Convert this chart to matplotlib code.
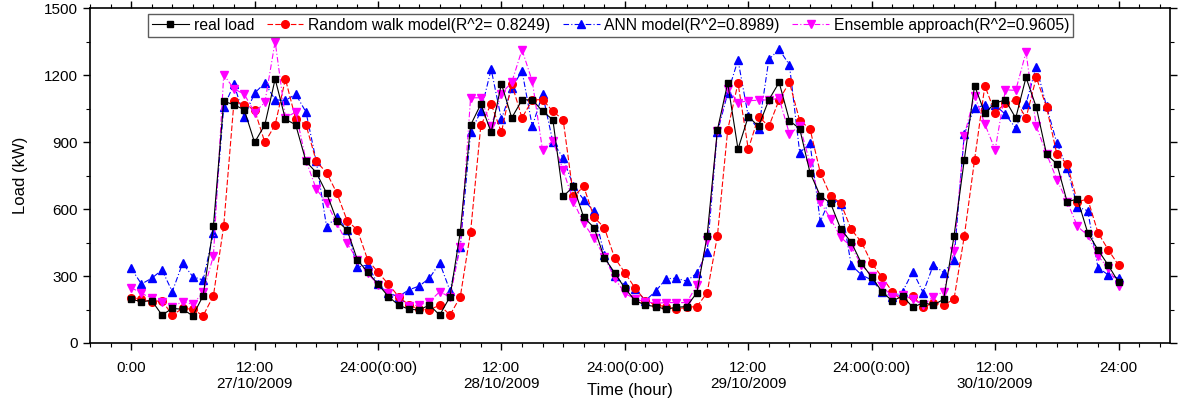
import matplotlib
matplotlib.use("Agg")
import matplotlib.pyplot as plt
from matplotlib.ticker import MultipleLocator, FixedLocator
import numpy as np

hours = list(range(97))

real_load = [196, 185, 190, 125, 155, 151, 122, 212, 524, 1082, 1067, 1044, 898, 977,
             1182, 1002, 977, 813, 763, 671, 548, 506, 372, 317, 264, 208, 170, 151,
             148, 170, 125, 207, 497, 975, 1070, 943, 1161, 1008, 1088, 1090, 1037, 1000,
             656, 701, 563, 517, 382, 315, 245, 190, 170, 163, 151, 160, 163, 225,
             480, 955, 1164, 868, 1014, 970, 1089, 1167, 996, 959, 763, 659, 626, 509,
             452, 357, 295, 230, 188, 210, 160, 180, 170, 196, 478,
             820, 1152, 1029, 1075, 1088, 1007, 1189, 1056, 845, 802, 632, 645, 494, 417, 348, 272]

random_walk = [203, 196, 185, 190, 125, 155, 151, 122, 212, 524, 1082, 1067, 1044, 898, 977,
               1182, 1002, 977, 813, 763, 671, 548, 506, 372, 317, 264, 208, 170, 151,
               148, 170, 125, 207, 497, 975, 1070, 943, 1161, 1008, 1088, 1090, 1037, 1000,
               656, 701, 563, 517, 382, 315, 245, 190, 170, 163, 151, 160, 163, 225,
               480, 955, 1164, 868, 1014, 970, 1089, 1167, 996, 959, 763, 659, 626, 509,
               452, 357, 295, 230, 188, 210, 160, 180, 170, 196, 478,
               820, 1152, 1029, 1075, 1088, 1007, 1189, 1056, 845, 802, 632, 645, 494, 417, 348]

ann = [335, 264, 290, 327, 230, 357, 297, 282, 491, 1056, 1159, 1011, 1119, 1164,
       1089, 1086, 1114, 1034, 813, 521, 566, 506, 339, 350, 262, 223, 208, 238,
       255, 290, 359, 234, 432, 943, 1037, 1226, 1001, 1141, 1219, 970, 1115, 900,
       828, 702, 642, 589, 396, 300, 260, 240, 190, 232, 288, 290, 277, 313,
       408, 944, 1119, 1267, 1015, 957, 1270, 1315, 1245, 852, 895, 544, 650, 624,
       350, 305, 282, 230, 205, 230, 320, 226, 350, 315, 372,
       936, 1052, 1065, 1065, 1024, 962, 1071, 1238, 1059, 895, 783, 610, 592, 337, 305, 290]

ensemble = [248, 223, 200, 185, 163, 185, 173, 227, 390, 1201, 1138, 1114, 1032, 1077,
            1350, 1009, 1034, 817, 689, 629, 536, 447, 372, 312, 260, 223, 200, 166,
            170, 185, 230, 205, 432, 1098, 1098, 970, 1117, 1167, 1313, 1172, 863, 906,
            775, 633, 536, 469, 387, 290, 223, 196, 185, 178, 181, 181, 181, 258,
            462, 950, 1139, 1076, 1085, 1087, 1089, 1095, 937, 971, 807, 633, 556, 473,
            432, 350, 300, 255, 208, 215, 196, 170, 208, 230, 414,
            928, 1108, 980, 865, 1134, 1131, 1302, 970, 847, 732, 633, 522, 482, 390, 335, 256]

tick_hours = [0, 12, 24, 36, 48, 60, 72, 84, 96]
tick_labels = ["0:00", "12:00\n27/10/2009", "24:00(0:00)", "12:00\n28/10/2009",
               "24:00(0:00)", "12:00\n29/10/2009", "24:00(0:00)", "12:00\n30/10/2009", "24:00"]

legend_labels = ["real load", "Random walk model(R^2= 0.8249)",
                 "ANN model(R^2=0.8989)", "Ensemble approach(R^2=0.9605)"]

plt.rcParams['font.family'] = ['Liberation Sans', 'DejaVu Sans']

fig = plt.figure(figsize=(11.81, 4.03), dpi=100)
ax = fig.add_axes([90/1181, 60/403, (1170-90)/1181, 335/403])

ax.plot(hours, real_load, color='black', marker='s', ms=5, lw=0.8, ls='-',
        label=legend_labels[0], zorder=5)
ax.plot(hours, random_walk, color='red', marker='o', ms=5.5, lw=0.8, ls=(0, (5, 2)),
        label=legend_labels[1], zorder=4)
ax.plot(hours, ann, color='blue', marker='^', ms=6, lw=0.8, ls=(0, (5, 2, 1, 2)),
        label=legend_labels[2], zorder=3)
ax.plot(hours, ensemble, color='magenta', marker='v', ms=6, lw=0.8, ls=(0, (5, 2, 1, 2)),
        label=legend_labels[3], zorder=4)

ax.set_xlim(-4, 101)
ax.set_ylim(0, 1500)
ax.xaxis.set_major_locator(FixedLocator(tick_hours))
ax.xaxis.set_minor_locator(MultipleLocator(2))
ax.set_xticklabels(tick_labels)
ax.yaxis.set_major_locator(MultipleLocator(300))
ax.yaxis.set_minor_locator(MultipleLocator(150))
ax.tick_params(axis='both', which='major', labelsize=11, length=5, width=1,
               top=True, right=True, direction='out')
ax.tick_params(axis='x', which='major', pad=8)
ax.tick_params(axis='both', which='minor', length=3, width=0.8,
               top=True, right=True, direction='out')
for sp in ax.spines.values():
    sp.set_linewidth(1.2)

ax.set_ylabel("Load (kW)", fontsize=12, labelpad=12)
ax.set_xlabel("Time (hour)", fontsize=12)
ax.xaxis.set_label_coords(0.5, -0.119)

leg = ax.legend(loc='upper left', ncol=4, fontsize=11.3, frameon=True, fancybox=False,
                edgecolor='#333333', borderpad=0.25, handlelength=2.35, columnspacing=0.8,
                handletextpad=0.3, borderaxespad=0, bbox_to_anchor=(0.0537, 0.982))
leg.get_frame().set_linewidth(1.0)

fig.savefig("out.png", dpi=100)
